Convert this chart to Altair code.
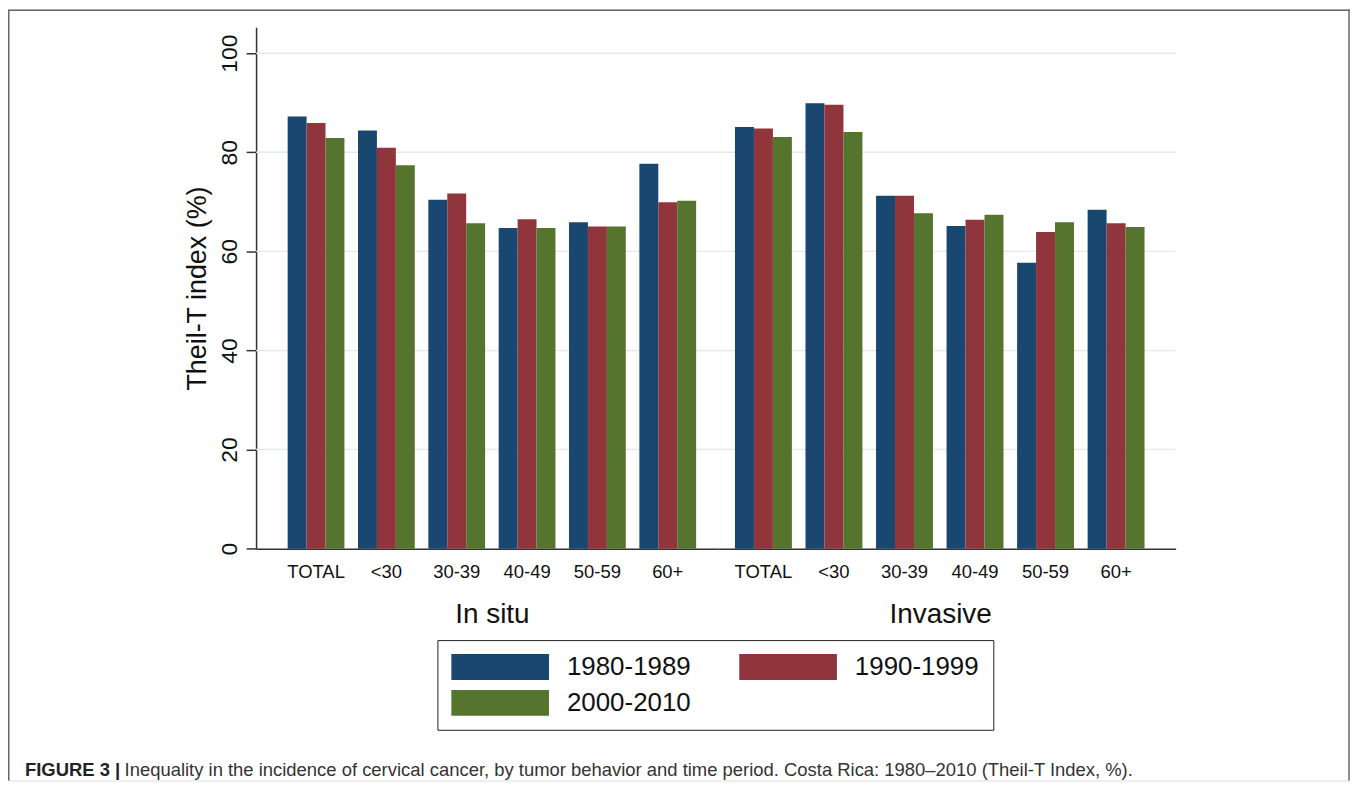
import altair as alt
import pandas as pd

# ---------------- data ----------------
ages = ["TOTAL", "<30", "30-39", "40-49", "50-59", "60+"]
periods = ["1980-1989", "1990-1999", "2000-2010"]
colors = ["#1a476f", "#90353b", "#55752f"]

in_situ_1980 = [87.2, 84.4, 70.4, 64.7, 65.9, 77.7]
in_situ_1990 = [85.9, 80.9, 71.7, 66.5, 65.0, 69.9]
in_situ_2000 = [82.9, 77.4, 65.7, 64.7, 65.0, 70.2]

invasive_1980 = [85.1, 89.9, 71.2, 65.1, 57.7, 68.4]
invasive_1990 = [84.8, 89.6, 71.2, 66.4, 63.9, 65.7]
invasive_2000 = [83.1, 84.1, 67.7, 67.4, 65.9, 64.9]

grid_values = [20, 40, 60, 80, 100]
y_ticks = [0, 20, 40, 60, 80, 100]

y_title = "Theil-T index (%)"
group_titles = ["In situ", "Invasive"]
caption_bold = ["FIGURE 3 |"]
caption_text = ["Inequality in the incidence of cervical cancer, by tumor behavior and time period. "
                "Costa Rica: 1980\u20132010 (Theil-T Index, %)."]

rows = []
for beh, series in [("In situ", [in_situ_1980, in_situ_1990, in_situ_2000]),
                    ("Invasive", [invasive_1980, invasive_1990, invasive_2000])]:
    for p, vals in zip(periods, series):
        for a, v in zip(ages, vals):
            rows.append({"behavior": beh, "age": a, "period": p, "value": v})
df = pd.DataFrame(rows)

# ---------------- layout ----------------
W, H = 1347, 774
FONT = "Liberation Sans"
Y0 = 541.3          # pixel of value 0 inside the view
YTOP = 18           # top of the y axis
AX_X = 249          # y-axis position
SPLIT = 712.5       # boundary between the two groups
RIGHT = 1172        # end of x axis / gridlines

yscale = alt.Scale(domain=[0, 105.2], range=[Y0, YTOP], nice=False, zero=True)

yaxis = alt.Axis(
    title=y_title, values=y_ticks, orient="left", offset=-AX_X, grid=False,
    domainColor="#333333", domainWidth=1.5, tickColor="#333333", tickWidth=1.5, tickSize=10,
    labelFont=FONT, labelFontSize=23, labelColor="#111111", labelAngle=270,
    labelAlign="center", labelBaseline="alphabetic", labelPadding=10, labelOverlap=False,
    titleFont=FONT, titleFontSize=27, titleFontWeight="normal", titleColor="#111111",
    titleAngle=270, titleAlign="center", titleBaseline="alphabetic",
    titleX=-51, titleY=(Y0 + YTOP) / 2,
)

color = alt.Color(
    "period:N",
    scale=alt.Scale(domain=periods, range=colors),
    legend=alt.Legend(
        title=None, orient="none", legendX=431, legendY=633, direction="horizontal",
        columns=2, symbolType="M-4.9,-1.3H4.9V1.3H-4.9Z", symbolSize=400,
        symbolStrokeWidth=0, symbolOffset=36, labelOffset=54,
        labelFont=FONT, labelFontSize=26, labelColor="#111111", labelLimit=400,
        columnPadding=48, rowPadding=10, padding=14,
        strokeColor="#222222", fillColor="white",
    ),
)


def bars(beh, rng, po, align, title, title_x):
    return alt.Chart(df).transform_filter(alt.datum.behavior == beh).mark_bar().encode(
        x=alt.X(
            "age:N", sort=ages,
            scale=alt.Scale(domain=ages, range=rng, paddingInner=0.193,
                            paddingOuter=po, align=align),
            axis=alt.Axis(
                title=title, orient="bottom", offset=-(H - Y0), grid=False,
                ticks=False, tickSize=0, domainColor="#333333", domainWidth=1.5,
                labelFont=FONT, labelFontSize=18.5, labelColor="#111111", labelAngle=0,
                labelPadding=14, labelBaseline="top",
                titleFont=FONT, titleFontSize=28, titleFontWeight="normal",
                titleColor="#111111", titleX=title_x, titleY=74,
                titleAlign="center", titleBaseline="alphabetic",
            ),
        ),
        xOffset=alt.XOffset("period:N", sort=periods,
                            scale=alt.Scale(domain=periods, paddingInner=0, paddingOuter=0)),
        y=alt.Y("value:Q", scale=yscale, axis=yaxis),
        color=color,
    )


grid = alt.Chart(pd.DataFrame({"v": grid_values})).mark_rule(
    color="#e4e9ed", strokeWidth=1.5
).encode(
    y=alt.Y("v:Q", scale=yscale, axis=yaxis),
    x=alt.value(AX_X), x2=alt.value(RIGHT),
)

in_situ = bars("In situ", [AX_X, SPLIT], 0.3789, 0.5925, group_titles[0], 485.7)
invasive = bars("Invasive", [SPLIT, RIGHT], 0.3418, 0.355, group_titles[1], 935.6)

frame_style = dict(color="#666666", strokeWidth=1.5)
frame_left = alt.Chart(pd.DataFrame({"k": [0]})).mark_rule(**frame_style).encode(
    x=alt.value(0.75), y=alt.value(0.75), y2=alt.value(H))
frame_top = alt.Chart(pd.DataFrame({"k": [0]})).mark_rule(**frame_style).encode(
    x=alt.value(0), x2=alt.value(W), y=alt.value(0.75))
frame_right = alt.Chart(pd.DataFrame({"k": [0]})).mark_rule(**frame_style).encode(
    x=alt.value(W - 1), y=alt.value(0), y2=alt.value(H))

CAP_SIZE = 18.5
CAP_Y = 769
cap1 = alt.Chart(pd.DataFrame({"t": caption_bold})).mark_text(
    font=FONT, fontSize=CAP_SIZE, fontWeight="bold", align="left", baseline="alphabetic",
    color="#222222"
).encode(text="t:N", x=alt.value(17), y=alt.value(CAP_Y))
cap2 = alt.Chart(pd.DataFrame({"t": caption_text})).mark_text(
    font=FONT, fontSize=CAP_SIZE, align="left", baseline="alphabetic", color="#333333"
).encode(text="t:N", x=alt.value(117), y=alt.value(CAP_Y))

chart = alt.layer(
    grid, in_situ, invasive, frame_left, frame_top, frame_right, cap1, cap2
).resolve_scale(
    x="independent", xOffset="independent"
).properties(
    width=W, height=H, padding=0, autosize=alt.AutoSizeParams(type="none")
).configure_view(stroke=None).configure_legend(strokeWidth=1.5).configure(background="white")

chart.save("out.html", embed_options={"renderer": "svg", "actions": False})
